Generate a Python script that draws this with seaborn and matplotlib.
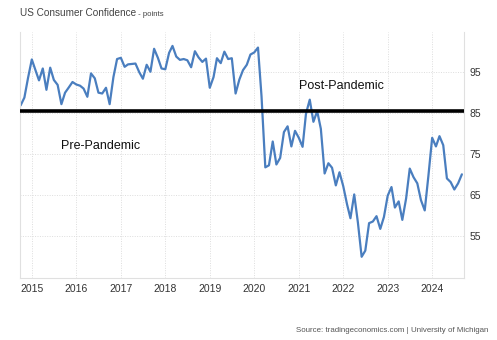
import numpy as np
import pandas as pd
import matplotlib
matplotlib.use("Agg")
import matplotlib.pyplot as plt
import matplotlib.dates as mdates
import seaborn as sns

start_month = "2014-10-01"
values = [
    86.9, 88.8, 93.6,
    98.1, 95.4, 93.0, 95.9, 90.7, 96.1, 93.1, 91.9, 87.2, 90.0, 91.3, 92.6,
    92.0, 91.7, 91.0, 89.0, 94.7, 93.5, 90.0, 89.8, 91.2, 87.2, 93.8, 98.2,
    98.5, 96.3, 96.9, 97.0, 97.1, 95.0, 93.4, 96.8, 95.1, 100.7, 98.5, 95.9,
    95.7, 99.7, 101.4, 98.8, 98.0, 98.2, 97.9, 96.2, 100.1, 98.6, 97.5, 98.3,
    91.2, 93.8, 98.4, 97.2, 100.0, 98.2, 98.4, 89.8, 93.2, 95.5, 96.8, 99.3,
    99.8, 101.0, 89.1, 71.8, 72.3, 78.1, 72.5, 74.1, 80.4, 81.8, 76.9, 80.7,
    79.0, 76.8, 84.9, 88.3, 82.9, 85.5, 81.2, 70.3, 72.8, 71.7, 67.4, 70.6,
    67.2, 62.8, 59.4, 65.2, 58.4, 50.0, 51.5, 58.2, 58.6, 59.9, 56.8, 59.7,
    64.9, 67.0, 62.0, 63.5, 59.0, 64.2, 71.5, 69.4, 67.9, 63.8, 61.3, 69.7,
    79.0, 76.9, 79.4, 77.2, 69.1, 68.2, 66.4, 67.9, 70.1,
]
threshold = 85.5
yticks = [55, 65, 75, 85, 95]
year_ticks = list(range(2015, 2025))
title = "US Consumer Confidence"
unit = " - points"
source = "Source: tradingeconomics.com | University of Michigan"
pre_label = ("Pre-Pandemic", "2015-09-01", 77.0)
post_label = ("Post-Pandemic", "2021-01-01", 91.6)

dates = pd.date_range(start_month, periods=len(values), freq="MS")
df = pd.DataFrame({"date": dates, "value": values})

sns.set_theme(style="white")
plt.rcParams["font.family"] = ["Liberation Sans", "DejaVu Sans"]

fig = plt.figure(figsize=(4.97, 3.40), dpi=100)
ax = fig.add_axes([0.040, 0.182, 0.894, 0.724])

sns.lineplot(data=df, x="date", y="value", ax=ax, color="#4a7ebf", linewidth=1.6,
             solid_joinstyle="round", solid_capstyle="round")
ax.axhline(threshold, color="black", linewidth=2.6, zorder=3)

ax.set_xlim(pd.Timestamp("2014-09-25"), pd.Timestamp("2024-09-20"))
ax.set_ylim(44.8, 104.8)
ax.set_yticks(yticks)
ax.set_xticks([pd.Timestamp(f"{y}-01-01") for y in year_ticks])
ax.xaxis.set_major_formatter(mdates.DateFormatter("%Y"))
ax.yaxis.tick_right()
ax.set_xlabel("")
ax.set_ylabel("")
ax.tick_params(axis="both", length=0, labelsize=7.5, colors="#333333", pad=4)
ax.grid(True, color="#dddddd", linestyle=(0, (1, 1.5)), linewidth=0.7)

ax.spines["top"].set_visible(False)
for side in ["left", "bottom", "right"]:
    ax.spines[side].set_color("#e0e0e0")
    ax.spines[side].set_linewidth(0.8)

ax.text(pd.Timestamp(pre_label[1]), pre_label[2], pre_label[0], fontsize=9,
        color="#111111", va="center", ha="left")
ax.text(pd.Timestamp(post_label[1]), post_label[2], post_label[0], fontsize=9,
        color="#111111", va="center", ha="left")

t = fig.text(20 / 497, 1 - 13.5 / 340, title, fontsize=7.2, color="#444444", va="center", ha="left")
fig.canvas.draw()
bb = t.get_window_extent()
fig.text(bb.x1 / fig.bbox.width, 1 - 14 / 340, unit, fontsize=5.6, color="#444444",
         va="center", ha="left")
fig.text(488 / 497, 1 - 330 / 340, source, fontsize=5.7, color="#555555",
         va="center", ha="right")

fig.savefig("out.png", dpi=100)
